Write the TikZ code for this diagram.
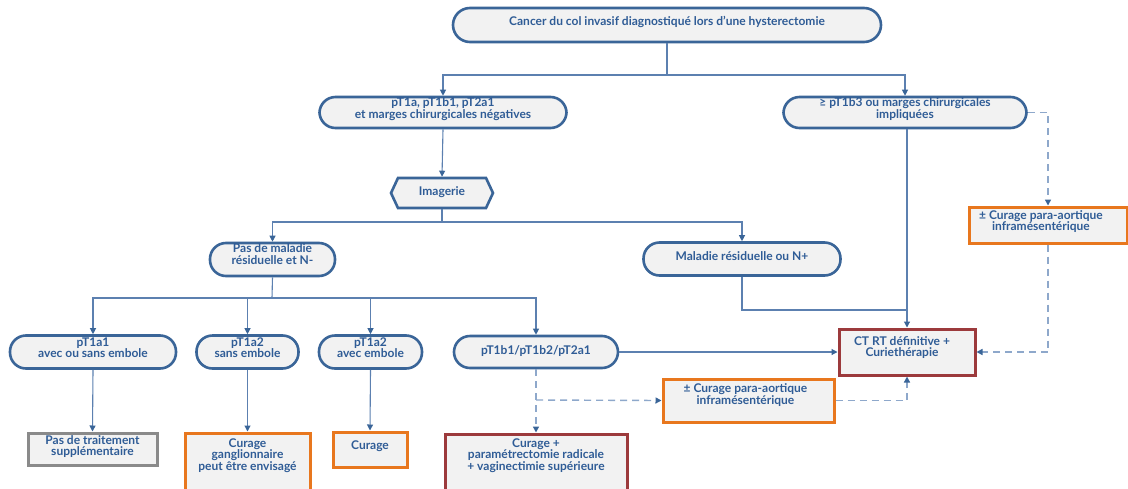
\documentclass[tikz,border=0pt]{standalone}
\usepackage{fontspec}
\setmainfont{Lato}
\usetikzlibrary{shapes.symbols,arrows.meta,calc}
\definecolor{nb}{HTML}{3A6598}
\definecolor{lnc}{HTML}{5C80B0}
\definecolor{dl}{HTML}{8EA8CB}
\definecolor{tx}{HTML}{2F5C96}
\definecolor{nf}{HTML}{F2F2F2}
\definecolor{org}{HTML}{E8771E}
\definecolor{rd}{HTML}{9C3A3C}
\definecolor{gr}{HTML}{8A8A8A}
\newcommand\tl[2][0pt]{\raisebox{#1}[\height][\depth]{\def\arraystretch{1}\begin{tabular}{@{}c@{}}#2\end{tabular}}}
\begin{document}
\begin{tikzpicture}[x=1pt,y=-1pt,
  base/.style={fill=nf, text=tx, inner sep=0pt, font=\bfseries\fontsize{12}{9.5}\selectfont},
  stad/.style={base, rectangle, draw=nb, line width=2.6pt, rounded corners=16pt},
  hexa/.style={base, signal, signal to=west and east, signal pointer angle=130, draw=nb, line width=2.6pt},
  obox/.style={base, rectangle, draw=org, line width=3pt},
  rbox/.style={base, rectangle, draw=rd, line width=3pt},
  gbox/.style={base, rectangle, draw=gr, line width=3pt},
  conn/.style={draw=lnc, line width=1.1pt},
  arr/.style={-{Triangle[width=6pt,length=6pt,color=nb]}},
  dsh/.style={draw=dl, line width=1.4pt, dash pattern=on 7pt off 5pt},
]
\path[use as bounding box, fill=white] (0,0) rectangle (1128,488);
\clip (0,0) rectangle (1128,488);

% nodes
\node[stad, minimum width=428, minimum height=34, rounded corners=17pt] (top) at (667,25)
  {\tl[3pt]{Cancer du col invasif diagnostiqué lors d'une hysterectomie}};
\node[stad, minimum width=247, minimum height=31] (A) at (443,112.5)
  {\tl[3pt]{pT1a, pT1b1, pT2a1\\ et marges chirurgicales négatives}};
\node[stad, minimum width=243, minimum height=31] (B) at (905,112.5)
  {\tl[3pt]{≥ pT1b3 ou marges chirurgicales\\ impliquées}};
\node[hexa, minimum width=102, minimum height=30] (I) at (442,193)
  {\tl[1pt]{Imagerie}};
\node[stad, minimum width=125, minimum height=33] (PM) at (272.5,259.5)
  {\tl[4pt]{Pas de maladie\\ résiduelle et N-}};
\node[stad, minimum width=197, minimum height=33] (MR) at (742,259)
  {\tl[2pt]{Maladie résiduelle ou N+}};
\node[stad, minimum width=166, minimum height=33] (P1) at (93,352)
  {\tl[3pt]{pT1a1\\ avec ou sans embole}};
\node[stad, minimum width=102, minimum height=33] (P2) at (247.5,352)
  {\tl[3pt]{pT1a2\\ sans embole}};
\node[stad, minimum width=103, minimum height=33] (P3) at (370.5,352)
  {\tl[3pt]{pT1a2\\ avec embole}};
\node[stad, minimum width=164, minimum height=32] (P4) at (536,352)
  {\tl[1pt]{pT1b1/pT1b2/pT2a1}};
\node[gbox, minimum width=129, minimum height=32] (G) at (92.5,449)
  {\tl[2pt]{Pas de traitement\\ supplémentaire}};
\node[obox, minimum width=125, minimum height=70] (C2) at (247.5,468)
  {\tl[12pt]{Curage\\ ganglionnaire\\ peut être envisagé}};
\node[obox, minimum width=74, minimum height=35] (C3) at (370,449.5)
  {\tl[2.5pt]{Curage}};
\node[rbox, minimum width=182, minimum height=70] (C4) at (536,469)
  {\tl[13pt]{Curage +\\ paramétrectomie radicale\\ + vaginectimie supérieure}};
\node[obox, minimum width=171, minimum height=43] (O2) at (748.5,400.5)
  {\hspace*{-6pt}\tl[5pt]{± Curage para-aortique\\ inframésentérique}};
\node[rbox, minimum width=136, minimum height=46] (R) at (907,352)
  {\hspace*{-10pt}\tl[4pt]{CT RT définitive +\\ Curiethérapie}};
\node[obox, minimum width=158, minimum height=36] (O1) at (1048,225)
  {\hspace*{-14pt}\tl[3pt]{± Curage para-aortique\\ inframésentérique}};

% junctions
\coordinate (j1) at (667,75);
\coordinate (j2) at (442,222);
\coordinate (j3) at (272,298);
\coordinate (j4) at (907,310);
\coordinate (j5) at (536,400);

% connectors
\draw[conn] (top.south) -- (j1);
\draw[conn,arr] (j1) -| (A.north);
\draw[conn,arr] (j1) -| (B.north);
\draw[conn,arr] (A.south) -- (I.north);
\draw[conn] (I.south) -- (j2);
\draw[conn,arr] (j2) -| (PM.north);
\draw[conn,arr] (j2) -| (MR.north);
\draw[conn] (PM.south) -- (j3);
\draw[conn,arr] (j3) -| (P1.north);
\draw[conn,arr] (j3) -| (P2.north);
\draw[conn,arr] (j3) -| (P3.north);
\draw[conn,arr] (j3) -| (P4.north);
\draw[conn,arr] (P1.south) -- (G.north);
\draw[conn,arr] (P2.south) -- (C2.north);
\draw[conn,arr] (P3.south) -- (C3.north);
\draw[conn,arr] (B.south -| R.north) -- (R.north);
\draw[conn] (MR.south) |- (j4);
\draw[conn,arr] (P4.east) -- (R.west);
\draw[dsh,arr] (P4.south) -- (C4.north);
\draw[dsh,arr] (j5) -- (O2.west);
\draw[dsh,arr] (O2.east) -| (R.south);
\draw[dsh,arr] (B.east) -| (O1.north);
\draw[dsh,arr] (O1.south) |- (R.east);
\end{tikzpicture}
\end{document}
